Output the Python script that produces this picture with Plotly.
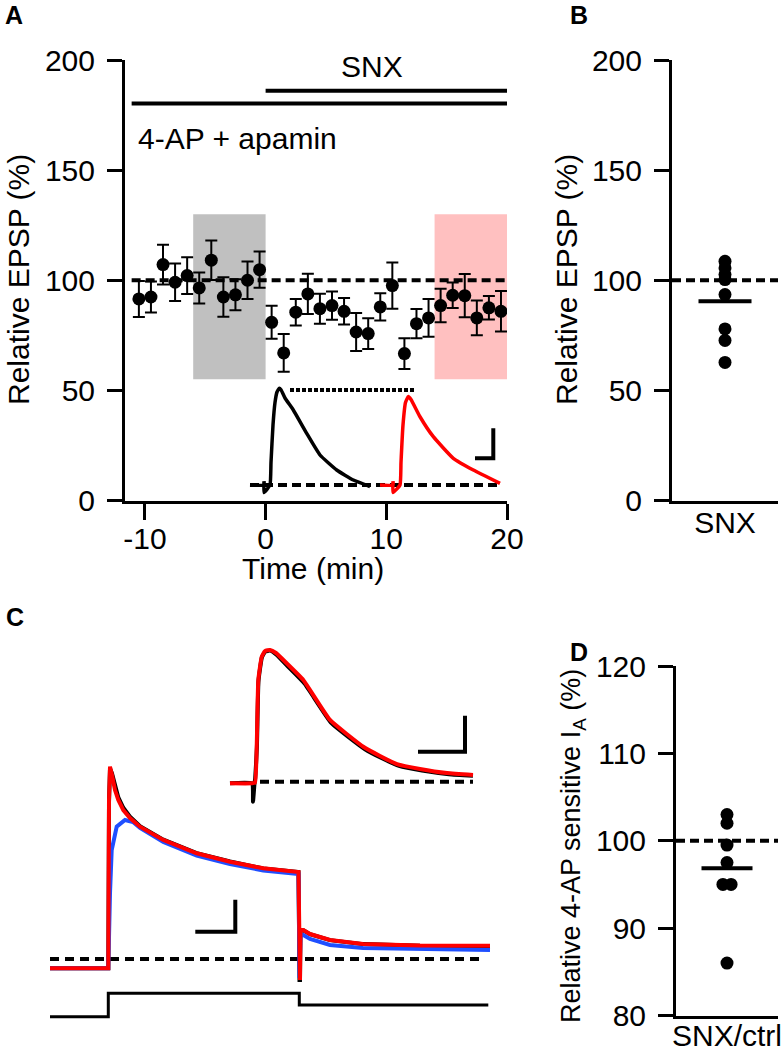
import plotly.graph_objects as go
import numpy as np

W, H = 784, 1050
FONT = "Liberation Sans, Arial, sans-serif"
FS = 30

def fx(px):
    return px / W

def fy(py):
    return 1 - py / H

# ---------------- Panel A data ----------------
times_a = [-10.5, -9.5, -8.5, -7.5, -6.5, -5.5, -4.5, -3.5, -2.5, -1.5, -0.5,
           0.5, 1.5, 2.5, 3.5, 4.5, 5.5, 6.5, 7.5, 8.5, 9.5,
           10.5, 11.5, 12.5, 13.5, 14.5, 15.5, 16.5, 17.5, 18.5, 19.5]
epsp_mean = [91.5, 92.4, 107.1, 99.1, 102.1, 96.5, 109.1, 92.4, 93.4, 100.0, 104.8,
             80.9, 67.0, 85.5, 93.8, 87.1, 88.5, 85.9, 76.5, 75.8, 87.9,
             97.6, 66.7, 80.3, 82.9, 88.5, 93.2, 93.0, 82.9, 87.5, 85.9]
epsp_sem = [8.2, 7.0, 9.0, 8.5, 8.3, 7.0, 9.0, 9.0, 7.0, 8.5, 8.2,
            7.5, 8.6, 6.0, 9.1, 6.8, 6.4, 6.0, 8.6, 7.0, 6.2,
            10.5, 7.0, 6.6, 8.6, 7.6, 5.8, 9.8, 7.9, 5.3, 9.2]
box_start = [-6, 14]
box_end = [0, 20]
box_low, box_high = 55, 130
drug_names = ["4-AP + apamin", "SNX"]
drug_start = [-11.1, 0]
drug_end = [20, 20]
drug_level = [180.3, 186]
a_xticks = [-10, 0, 10, 20]
a_xtext = ["-10", "0", "10", "20"]
a_yticks = [0, 50, 100, 150, 200]

# inset A traces (ms, mV)
epsp_ctrl_t = [0, 14, 14, 14, 20, 21, 23, 25, 27, 29.3, 31, 35, 43.3, 56.7, 70, 86.7, 103.3, 120]
epsp_ctrl_v = [0, 0, 0.25, -0.5, 0, 1.5, 4.0, 5.5, 6.2, 6.45, 6.35, 5.8, 5.0, 3.44, 2.0, 1.0, 0.33, -0.1]
epsp_snx_t = [130, 143, 143, 143, 150, 151, 153, 155.5, 158.3, 161, 170, 183.3, 203.3, 223.3, 250]
epsp_snx_v = [0, 0, 0.25, -0.5, 0, 1.5, 4.0, 5.5, 5.9, 5.7, 4.55, 3.22, 1.78, 1.0, 0.11]
inset_a_base_t = [0, 250]
inset_a_peak_t = [40, 165]
inset_a_peak_v = 6.33
sb_a_t = [225, 243.3, 243.3]
sb_a_v = [1.78, 1.78, 3.78]

# ---------------- Panel B data ----------------
b_vals = [108.6, 105.6, 102.6, 100.3, 93.5, 77.9, 72.7, 62.7]
b_cat = ["SNX"]

# ---------------- Panel C data ----------------
ia_t_red = [-58.3, 0, 0.7, 1.7, 3.7, 6.7, 10, 15, 21.7, 31.7, 55, 88.4, 121.7, 155, 190.2,
            191.2, 191.7, 192.2, 195, 201.7, 221.7, 254.7, 311.7, 381.7]
ia_i_red = [-58, -58, 994, 1202, 1150, 1056, 994, 931, 881, 827, 744, 661, 608, 567, 544,
            -131, -131, 181, 181, 156, 119, 94, 84, 83]
ia_i_black = [-58, -58, 980, 1190, 1160, 1075, 1010, 945, 890, 830, 746, 662, 609, 566, 543,
              -131, -131, 181, 180, 155, 118, 93, 83, 82]
ia_t_blue = [-58.3, 0, 1.7, 3.4, 8.4, 16.7, 24.7, 31.7, 55, 88.4, 121.7, 155, 190.2,
             191.2, 192.2, 195, 201.7, 221.7, 254.7, 381.7]
ia_i_blue = [-58, -58, 412, 681, 827, 869, 856, 819, 731, 647, 594, 553, 531,
             -119, 150, 150, 125, 87.5, 69, 56]
cmd_t = [-58.3, 0, 0, 191, 191, 380]
cmd_v = [-70, -70, -20, -20, -45, -45]
zero_c_t = [-58.3, 375]
sb_c_t = [87, 127, 127]
sb_c_i = [170, 170, 370]

# inset C
ic_t_red = [-22, 0, 3, 4.7, 6.3, 9.7, 13, 18, 24, 34.7, 51.3, 78, 111.3, 128, 145, 168, 195, 221]
ic_v_red = [-0.09, -0.09, -0.05, 1.94, 5.65, 6.94, 7.26, 7.32, 7.15, 6.58, 5.65, 3.43, 1.94, 1.43, 0.98, 0.71, 0.48, 0.37]
ic_t_black = [-22, 0, 1, 2.5, 3.2, 4.9, 6.5, 9.9, 13.2, 18.2, 24.5, 35.5, 52.5, 79.5, 113, 130, 147, 170, 197, 221]
ic_v_black = [-0.09, -0.09, -1.11, -0.1, 0.2, 1.9, 5.6, 6.9, 7.22, 7.28, 7.05, 6.42, 5.45, 3.25, 1.8, 1.3, 0.88, 0.62, 0.42, 0.33]
ic_zero_t = [8, 221]
sb_ic_t = [166, 213, 213]
sb_ic_v = [1.67, 1.67, 3.67]

# ---------------- Panel D data ----------------
d_vals = [103.0, 102.0, 99.5, 97.5, 95.0, 95.0, 86.0]
d_jitter = [0, 0, 0, 0, -0.08, 0.08, 0]
d_cat = ["SNX/ctrl"]
d_yticks = [80, 90, 100, 110, 120]

fig = go.Figure()

BLK = "#000000"
RED = "#ff0000"
BLUE = "#1f4fff"

def line_tr(x, y, xa, ya, color=BLK, width=4, dash=None, spline=False):
    ln = dict(color=color, width=width)
    if dash:
        ln["dash"] = dash
    if spline:
        ln["shape"] = "spline"
        ln["smoothing"] = 0.4
    fig.add_trace(go.Scatter(x=x, y=y, mode="lines", line=ln, xaxis=xa, yaxis=ya,
                             showlegend=False, hoverinfo="skip"))

# ---------- Panel A ----------
line_tr([drug_start[0], drug_end[0]], [100, 100], "x", "y", dash="9px,5px")
for s, e, lv in zip(drug_start, drug_end, drug_level):
    line_tr([s, e], [lv, lv], "x", "y")
fig.add_trace(go.Scatter(x=times_a, y=epsp_mean, mode="markers",
                         marker=dict(color=BLK, size=13),
                         error_y=dict(type="data", array=epsp_sem, color=BLK, thickness=2, width=6),
                         xaxis="x", yaxis="y", showlegend=False))

# inset A
line_tr(inset_a_base_t, [0, 0], "x2", "y2", dash="9px,5px")
line_tr(inset_a_peak_t, [inset_a_peak_v] * 2, "x2", "y2", dash="4px,2px")
line_tr(epsp_ctrl_t, epsp_ctrl_v, "x2", "y2", width=3.5, spline=True)
line_tr(epsp_snx_t, epsp_snx_v, "x2", "y2", color=RED, width=3.5, spline=True)
line_tr(sb_a_t, sb_a_v, "x2", "y2")

# ---------- Panel B ----------
line_tr([0, 2], [100, 100], "x3", "y3", dash="9px,5px")
fig.add_trace(go.Scatter(x=[1] * len(b_vals), y=b_vals, mode="markers", marker=dict(color=BLK, size=13),
                         xaxis="x3", yaxis="y3", showlegend=False))
b_mean = float(np.mean(b_vals))
line_tr([0.5, 1.5], [b_mean, b_mean], "x3", "y3")

# ---------- Panel C ----------
line_tr(zero_c_t, [0, 0], "x4", "y4", dash="9px,6px")
line_tr(ia_t_red, ia_i_black, "x4", "y4")
line_tr(ia_t_blue, ia_i_blue, "x4", "y4", color=BLUE)
line_tr(ia_t_red, ia_i_red, "x4", "y4", color=RED)
line_tr(sb_c_t, sb_c_i, "x4", "y4")
line_tr(cmd_t, cmd_v, "x4", "y5", width=3)

# inset C
line_tr(ic_zero_t, [0, 0], "x6", "y6", dash="9px,6px")
line_tr(ic_t_black, ic_v_black, "x6", "y6", spline=True)
line_tr(ic_t_red, ic_v_red, "x6", "y6", color=RED, spline=True)
line_tr(sb_ic_t, sb_ic_v, "x6", "y6")

# ---------- Panel D ----------
line_tr([0, 2], [100, 100], "x7", "y7", dash="9px,5px")
fig.add_trace(go.Scatter(x=[1 + j for j in d_jitter], y=d_vals, mode="markers", marker=dict(color=BLK, size=13),
                         xaxis="x7", yaxis="y7", showlegend=False))
d_mean = float(np.mean(d_vals))
line_tr([0.5, 1.5], [d_mean, d_mean], "x7", "y7")

# shapes: shaded boxes in A
shapes = []
for s, e, col in zip(box_start, box_end, ["#c0c0c0", "#ffc0c0"]):
    shapes.append(dict(type="rect", xref="x", yref="y", x0=s, x1=e, y0=box_low, y1=box_high,
                       fillcolor=col, line=dict(width=0), layer="below"))

tickfont = dict(family=FONT, size=FS, color=BLK)
common_vis = dict(showline=True, linewidth=3, linecolor=BLK, ticks="outside", tickwidth=3,
                  tickcolor=BLK, showgrid=False, zeroline=False, tickfont=tickfont, automargin=False)
hidden = dict(visible=False, showgrid=False, zeroline=False, automargin=False)
cat_x = dict(showline=True, linewidth=3, linecolor=BLK, ticks="", showgrid=False, zeroline=False,
             tickfont=tickfont, automargin=False)

layout = dict(
    template="none",
    width=W, height=H, margin=dict(l=0, r=0, t=0, b=0, pad=0, autoexpand=False),
    plot_bgcolor="white", paper_bgcolor="white", showlegend=False,
    font=dict(family=FONT, size=FS, color=BLK),
    shapes=shapes,
    xaxis=dict(domain=[fx(125), fx(507)], range=[-11.65, 20], anchor="y", tickvals=a_xticks,
               ticktext=a_xtext, ticklen=16, ticklabelstandoff=-7, **common_vis),
    yaxis=dict(domain=[fy(500.5), fy(60)], range=[0, 200], anchor="x", tickvals=a_yticks,
               ticklen=15, ticklabelstandoff=6, **common_vis),
    xaxis2=dict(domain=[fx(245), fx(505)], range=[-5, 255], anchor="y2", **hidden),
    yaxis2=dict(domain=[fy(495), fy(380)], range=[-0.667, 7.0], anchor="x2", **hidden),
    xaxis3=dict(domain=[fx(672), fx(778)], range=[0, 2], anchor="y3", tickvals=[1], ticktext=b_cat,
                ticklabelstandoff=-7, **cat_x),
    yaxis3=dict(domain=[fy(500.5), fy(60)], range=[0, 200], anchor="x3", tickvals=a_yticks,
                ticklen=15, ticklabelstandoff=6, **common_vis),
    xaxis4=dict(domain=[fx(40), fx(500)], range=[-68.3, 391.7], anchor="y4", **hidden),
    yaxis4=dict(domain=[fy(990), fy(750)], range=[-193.75, 1306.25], anchor="x4", **hidden),
    yaxis5=dict(domain=[fy(1025), fy(985)], range=[-87.7, -2.3], anchor="x4", **hidden),
    xaxis6=dict(domain=[fx(225), fx(480)], range=[-27, 228], anchor="y6", **hidden),
    yaxis6=dict(domain=[fy(805), fy(640)], range=[-1.294, 7.872], anchor="x6", **hidden),
    xaxis7=dict(domain=[fx(676), fx(778)], range=[0, 2], anchor="y7", tickvals=[1], ticktext=d_cat,
                ticklabelstandoff=-9, **cat_x),
    yaxis7=dict(domain=[fy(1015.5), fy(666)], range=[80, 120], anchor="x7", tickvals=d_yticks,
                ticklen=15, ticklabelstandoff=6, **common_vis),
)
fig.update_layout(**layout)

ann = []
def pann(text, px, py, size=FS, bold=False, angle=0, xanchor="center", yanchor="middle"):
    t = f"<b>{text}</b>" if bold else text
    ann.append(dict(text=t, x=fx(px), y=fy(py), xref="paper", yref="paper", showarrow=False,
                    font=dict(family=FONT, size=size, color=BLK), textangle=angle,
                    xanchor=xanchor, yanchor=yanchor))

pann("A", 14, 15, size=25, bold=True)
pann("B", 579, 15, size=25, bold=True)
pann("C", 15, 617, size=25, bold=True)
pann("D", 579, 652, size=25, bold=True)
pann("Relative EPSP (%)", 19, 280, angle=-90)
pann("Relative EPSP (%)", 567, 280, angle=-90)
pann("Relative 4-AP sensitive I<sub>A</sub> (%)", 573, 846, size=27, angle=-90)
pann("Time (min)", 313, 568)
ann.append(dict(text=drug_names[1], x=8.8, y=197, xref="x", yref="y", showarrow=False,
                font=dict(family=FONT, size=FS, color=BLK)))
ann.append(dict(text=drug_names[0], x=-10.75, y=164.4, xref="x", yref="y", showarrow=False,
                xanchor="left", font=dict(family=FONT, size=FS, color=BLK)))
fig.update_layout(annotations=ann)

fig.write_html("out.html", config={"displayModeBar": False, "staticPlot": True},
               post_script="document.body.style.margin='0px';document.body.style.padding='0px';")
